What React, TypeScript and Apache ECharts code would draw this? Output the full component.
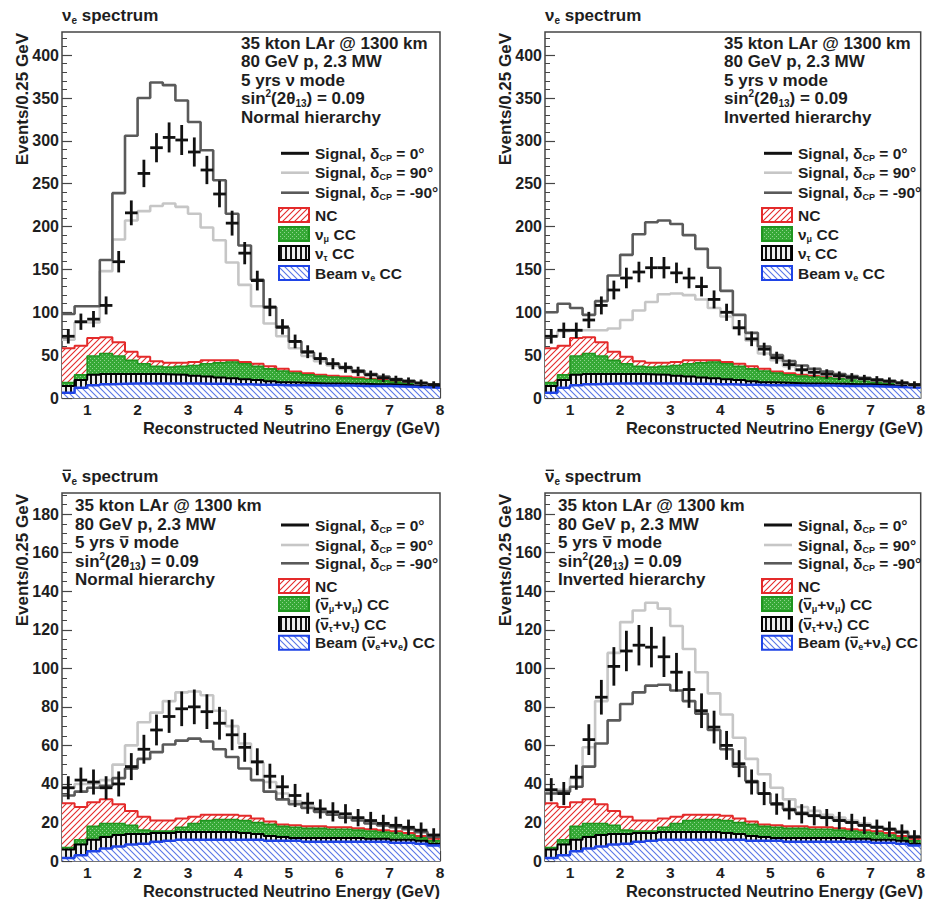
import React, { useEffect, useRef } from 'react';
import * as echarts from 'echarts';

// ---------- data ----------
const BIN_EDGES = [0.5, 0.75, 1, 1.25, 1.5, 1.75, 2, 2.25, 2.5, 2.75, 3, 3.25, 3.5, 3.75, 4, 4.25, 4.5, 4.75, 5, 5.25, 5.5, 5.75, 6, 6.25, 6.5, 6.75, 7, 7.25, 7.5, 7.75, 8];
const X_TICKS = [1, 2, 3, 4, 5, 6, 7, 8];
const NU_Y_TICKS = [0, 50, 100, 150, 200, 250, 300, 350, 400];
const ANU_Y_TICKS = [0, 20, 40, 60, 80, 100, 120, 140, 160, 180];

// neutrino mode backgrounds (visible stacked tops)
const NU_NC_TOP = [58, 61, 70, 71, 65, 54, 48, 43, 41, 41, 42, 44, 44, 44, 42, 40, 37, 34, 31, 29, 27, 26, 25, 24, 22.5, 21, 19.5, 18, 16, 14.5];
const NU_NUMU_TOP = [18, 27, 49, 52, 49, 44, 40, 37, 36, 37, 38, 40, 41, 42, 40, 37, 34, 31.5, 29, 27, 25.5, 24.5, 23.5, 22.5, 21.5, 20, 18.5, 17, 15.5, 14];
const NU_NUTAU_TOP = [14, 21, 27, 28, 28, 28, 28, 28, 27.5, 27, 26, 25, 24, 23, 22, 21, 19.5, 18.5, 18, 17.5, 17, 17, 16.5, 16.5, 16, 16, 15.5, 15, 14.5, 13.5];
const NU_BEAM_TOP = [6, 12, 15, 16, 16.5, 17, 17, 17, 17, 17, 17, 16.5, 16.5, 16, 16, 15.5, 15.5, 15, 15, 15, 14.5, 14.5, 14.5, 14, 14, 14, 13.5, 13, 12.5, 12];

// antineutrino mode backgrounds (visible stacked tops)
const ANU_NC_TOP = [30, 28, 30.5, 32, 29.5, 26, 23, 21, 21, 22, 23, 24, 24, 24, 23.5, 22, 20.5, 19, 18.5, 18, 18, 17.5, 17.5, 17, 16.5, 16, 15.5, 14.5, 13, 11.5];
const ANU_NUMU_TOP = [7, 11, 18, 19.5, 19.5, 18.5, 16, 15.5, 15.5, 17.5, 19.5, 21, 21.5, 21.5, 21, 20, 19, 18, 17.5, 17, 17, 16.5, 16.5, 16, 15.5, 15, 14.5, 13.5, 12, 10.5];
const ANU_NUTAU_TOP = [6, 8.5, 11, 12.5, 13.5, 14, 14, 14.5, 14.5, 15, 15, 15, 15, 15, 14.5, 14, 13, 12.5, 12, 12, 12, 12, 12, 12, 11.5, 11.5, 11, 11, 10.5, 9];
const ANU_BEAM_TOP = [1.5, 3, 5, 6.5, 7.5, 8.5, 9, 10, 10.5, 11, 11, 11, 11, 11, 11, 11, 10.5, 10.5, 10.5, 10, 10, 10, 10, 10, 10, 10, 9.5, 9.5, 9, 8];

// panel 1: nu mode, normal hierarchy
const P1_CP0 = [72, 89, 92, 108, 159, 216, 262, 292, 304, 301, 287, 266, 238, 204, 169, 137, 106, 83, 66, 54, 46, 40, 35.5, 31, 27, 23.5, 21.5, 19.5, 17.5, 15.5];
const P1_CP0_ERR = [8.5, 9.5, 9.5, 10.5, 12.5, 14.5, 16, 17, 17.5, 17.5, 17, 16.5, 15.5, 14.5, 13, 11.5, 10.5, 9, 8, 7.5, 7, 6.5, 6, 5.5, 5, 5, 4.5, 4.5, 4, 4];
const P1_CP90 = [68, 88, 88, 148, 185, 207, 218, 224, 227, 223, 215, 199, 184, 158, 132, 107, 87, 72, 58, 49, 43, 38, 34, 30, 27, 24, 21.5, 19.5, 17, 15.5];
const P1_CPM90 = [98, 107, 107, 161, 239, 306, 350, 368, 365, 347, 322, 289, 254, 215, 178, 138, 106, 82, 66, 53, 46, 40, 36, 32, 28, 25, 22, 20, 17.5, 16];

// panel 2: nu mode, inverted hierarchy
const P2_CP0 = [72, 79, 79, 91, 108, 126, 140, 147, 152, 152, 146, 140, 130, 115, 100, 82, 69, 57, 47, 39, 33, 30, 28, 26, 24, 22.5, 21, 19.5, 17.5, 15.5];
const P2_CP0_ERR = [8.5, 9, 9, 9.5, 10.5, 11, 12, 12, 12.5, 12.5, 12, 12, 11.5, 10.5, 10, 9, 8.5, 7.5, 7, 6, 5.5, 5.5, 5.5, 5, 5, 4.5, 4.5, 4.5, 4, 4];
const P2_CP90 = [72, 78, 79, 79, 79, 81, 91, 102, 112, 121, 122, 120, 115, 105, 95, 81, 67, 52, 44, 37, 32, 29, 27, 25, 23.5, 22, 20.5, 19, 17, 15];
const P2_CPM90 = [100, 110, 105, 97, 113, 143, 167, 191, 205, 207, 203, 190, 174, 152, 125, 97, 76, 60, 50, 43, 38, 34, 31, 28, 25.5, 23.5, 21.5, 20, 18, 16];

// panel 3: antinu mode, normal hierarchy
const P3_CP0 = [38, 42, 41, 38, 40, 49, 58, 68, 75, 79, 80, 77.5, 71.5, 65.5, 59, 51.5, 44, 38.5, 34, 30, 27, 25.5, 24.5, 22.5, 21, 19.5, 18.5, 17.5, 16, 13.5];
const P3_CP0_ERR = [6, 6.5, 6.5, 6, 6.5, 7, 7.5, 8, 8.5, 9, 9, 9, 8.5, 8, 7.5, 7, 6.5, 6, 6, 5.5, 5, 5, 5, 4.5, 4.5, 4.5, 4.5, 4, 4, 3.5];
const P3_CP90 = [38, 40, 40, 42, 50, 60, 72, 77, 83, 87.5, 88, 86, 78, 70, 61, 51, 41, 35, 31, 28.5, 26.5, 25, 23.5, 22, 20.5, 19, 18, 17, 15.5, 13];
const P3_CPM90 = [34, 36, 38, 39, 43, 48, 53, 56.5, 60.5, 62.5, 63.5, 62, 58, 54, 48, 42, 36, 32, 29.5, 27.5, 25.5, 24, 22.5, 21, 19.5, 18.5, 17.5, 16.5, 15, 12.5];

// panel 4: antinu mode, inverted hierarchy
const P4_CP0 = [37, 35, 43.5, 63, 85, 101, 109, 112, 111, 106, 98, 89, 78, 69.5, 60, 50.5, 41, 35, 29.5, 26.5, 24.5, 23.5, 22.5, 21, 20, 18.5, 17.5, 16.5, 15, 12.5];
const P4_CP0_ERR = [6, 6, 6.5, 8, 9, 10, 10.5, 10.5, 10.5, 10.5, 10, 9.5, 9, 8.5, 7.5, 7, 6.5, 6, 5.5, 5, 5, 5, 4.5, 4.5, 4.5, 4.5, 4, 4, 4, 3.5];
const P4_CP90 = [36, 37, 43, 59, 83, 108, 124, 130, 134, 131, 122, 110, 98, 87, 76, 64, 53, 45, 38, 32, 28, 26, 24, 22.5, 21, 19.5, 18, 17, 15.5, 13];
const P4_CPM90 = [35, 36, 38.5, 49, 61, 73, 81.5, 87.5, 91, 91.5, 88.5, 83, 76.5, 68, 58, 49, 41.5, 35, 30, 27, 25, 23.5, 22.5, 21, 20, 18.5, 17.5, 16.5, 15, 12.5];

// ---------- styling ----------
const FONT = '"Liberation Sans", Arial, Helvetica, sans-serif';
const TXT = '#1e1e1e';
const FRAME = '#454545';
const RED = '#e42a2a';
const GREEN_LINE = '#1f951f';
const GREEN_FILL = '#36a936';
const BLUE = '#1f44e6';
const BLUE_HATCH = '#5a77e6';
const LIGHT = '#c6c6c6';
const DARK = '#5a5a5a';

const PANELS = [
  { left: 62, top: 32, height: 366, mode: 'nu', yMax: 427, yTicks: NU_Y_TICKS, yMinorStep: 10, hier: 'Normal hierarchy', cp0: P1_CP0, err: P1_CP0_ERR, cp90: P1_CP90, cpm90: P1_CPM90 },
  { left: 545, top: 32, height: 366, mode: 'nu', yMax: 427, yTicks: NU_Y_TICKS, yMinorStep: 10, hier: 'Inverted hierarchy', cp0: P2_CP0, err: P2_CP0_ERR, cp90: P2_CP90, cpm90: P2_CPM90 },
  { left: 62, top: 493, height: 368, mode: 'anu', yMax: 191, yTicks: ANU_Y_TICKS, yMinorStep: 5, hier: 'Normal hierarchy', cp0: P3_CP0, err: P3_CP0_ERR, cp90: P3_CP90, cpm90: P3_CPM90 },
  { left: 545, top: 493, height: 368, mode: 'anu', yMax: 191, yTicks: ANU_Y_TICKS, yMinorStep: 5, hier: 'Inverted hierarchy', cp0: P4_CP0, err: P4_CP0_ERR, cp90: P4_CP90, cpm90: P4_CPM90 },
];
const PW = 378;

function stepData(vals: number[]) {
  return BIN_EDGES.map((x, i) => [x, vals[Math.min(i, vals.length - 1)]]);
}
function crossData(vals: number[], errs: number[]) {
  return vals.map((v, i) => [BIN_EDGES[i], BIN_EDGES[i + 1], v, errs[i]]);
}

function makeCanvas(w: number, h: number, draw: (ctx: CanvasRenderingContext2D) => void) {
  const c = document.createElement('canvas');
  c.width = w; c.height = h;
  const ctx = c.getContext('2d') as CanvasRenderingContext2D;
  draw(ctx);
  return c;
}
function pat(c: HTMLCanvasElement) {
  return { image: c, repeat: 'repeat', imageWidth: c.width, imageHeight: c.height } as any;
}

let measureCtx: CanvasRenderingContext2D | null = null;
function textWidth(t: string, fs: number) {
  if (!measureCtx) measureCtx = document.createElement('canvas').getContext('2d');
  if (!measureCtx) return t.length * fs * 0.55;
  measureCtx.font = `bold ${fs}px ${FONT}`;
  return measureCtx.measureText(t).width;
}

function richStyles(fs: number) {
  const base = { fontWeight: 'bold', fontFamily: FONT, fill: TXT, color: TXT };
  const small = Math.round(fs * 0.6);
  return {
    n: { ...base, fontSize: fs, lineHeight: fs + 3 },
    sb: { ...base, fontSize: small, lineHeight: small + 1, verticalAlign: 'bottom' },
    sp: { ...base, fontSize: small, lineHeight: small + 2, verticalAlign: 'top' },
  };
}

function richText(x: number, y: number, text: string, fs: number, align = 'left') {
  return {
    type: 'text', x, y, z: 100, silent: true,
    style: { text, rich: richStyles(fs), align, verticalAlign: 'middle', font: `bold ${fs}px ${FONT}`, fill: TXT },
  };
}

// overbar drawn above a "ν" that follows the given plain prefix
function nuBar(x: number, cy: number, prefix: string, fs: number) {
  const x0 = x + textWidth(prefix, fs);
  const w = textWidth('ν', fs);
  const y = cy - 0.17 * fs - 2.8;
  return {
    type: 'line', z: 100, silent: true,
    shape: { x1: x0 + 0.8, y1: y, x2: x0 + w - 0.4, y2: y },
    style: { stroke: TXT, lineWidth: 1.4 },
  };
}

function buildOption() {
  const ncPat = pat(makeCanvas(6, 6, (ctx) => {
    ctx.fillStyle = '#fff'; ctx.fillRect(0, 0, 6, 6);
    ctx.strokeStyle = RED; ctx.lineWidth = 1.1; ctx.beginPath();
    ctx.moveTo(0, 6); ctx.lineTo(6, 0);
    ctx.moveTo(-1, 1); ctx.lineTo(1, -1);
    ctx.moveTo(5, 7); ctx.lineTo(7, 5);
    ctx.stroke();
  }));
  const beamPat = pat(makeCanvas(6, 6, (ctx) => {
    ctx.fillStyle = '#fff'; ctx.fillRect(0, 0, 6, 6);
    ctx.strokeStyle = BLUE_HATCH; ctx.lineWidth = 1.1; ctx.beginPath();
    ctx.moveTo(0, 0); ctx.lineTo(6, 6);
    ctx.moveTo(-1, 5); ctx.lineTo(1, 7);
    ctx.moveTo(5, -1); ctx.lineTo(7, 1);
    ctx.stroke();
  }));
  const greenPat = pat(makeCanvas(4, 4, (ctx) => {
    ctx.fillStyle = GREEN_FILL; ctx.fillRect(0, 0, 4, 4);
    ctx.fillStyle = '#8fd48f'; ctx.fillRect(0, 0, 1, 1); ctx.fillRect(2, 2, 1, 1);
  }));
  const tauPat = pat(makeCanvas(5, 5, (ctx) => {
    ctx.fillStyle = '#eeeeee'; ctx.fillRect(0, 0, 5, 5);
    ctx.fillStyle = '#111'; ctx.fillRect(0, 0, 2, 5);
  }));

  const xMinor: number[] = [];
  for (let k = 3; k <= 40; k++) {
    const v = Math.round(k * 2) / 10;
    if (v > 0.5 && v < 8 && Math.abs(v - Math.round(v)) > 1e-6) xMinor.push(v);
  }

  const grids: any[] = [];
  const xAxes: any[] = [];
  const yAxes: any[] = [];
  const series: any[] = [];
  const graphics: any[] = [];

  const labelStyle = { fontSize: 15.5, fontWeight: 'bold', fontFamily: FONT, color: TXT };

  PANELS.forEach((p, pi) => {
    const nu = p.mode === 'nu';
    grids.push({ left: p.left, top: p.top, width: PW, height: p.height, show: true, borderColor: FRAME, borderWidth: 1.5, backgroundColor: '#fff' });

    const yMinor: number[] = [];
    for (let v = p.yMinorStep; v < p.yMax; v += p.yMinorStep) {
      if (v % (p.yTicks[1]) !== 0) yMinor.push(v);
    }

    xAxes.push({
      type: 'value', gridIndex: pi, min: 0.5, max: 8, position: 'bottom',
      axisLine: { show: false }, splitLine: { show: false },
      axisTick: { show: true, inside: true, length: 10, customValues: X_TICKS, lineStyle: { color: FRAME, width: 1.2 } },
      axisLabel: { show: true, customValues: X_TICKS, margin: 3, ...labelStyle },
    });
    xAxes.push({
      type: 'value', gridIndex: pi, min: 0.5, max: 8, position: 'bottom',
      axisLine: { show: false }, splitLine: { show: false }, axisLabel: { show: false },
      axisTick: { show: true, inside: true, length: 5, customValues: xMinor, lineStyle: { color: FRAME, width: 1 } },
    });
    yAxes.push({
      type: 'value', gridIndex: pi, min: 0, max: p.yMax, position: 'left',
      axisLine: { show: false }, splitLine: { show: false },
      axisTick: { show: true, inside: true, length: 10, customValues: p.yTicks, lineStyle: { color: FRAME, width: 1.2 } },
      axisLabel: { show: true, customValues: p.yTicks, margin: 3, ...labelStyle, fontSize: 16 },
    });
    yAxes.push({
      type: 'value', gridIndex: pi, min: 0, max: p.yMax, position: 'left',
      axisLine: { show: false }, splitLine: { show: false }, axisLabel: { show: false },
      axisTick: { show: true, inside: true, length: 5, customValues: yMinor, lineStyle: { color: FRAME, width: 1 } },
    });

    const xi = pi * 2, yi = pi * 2;
    const bg = nu
      ? [NU_NC_TOP, NU_NUMU_TOP, NU_NUTAU_TOP, NU_BEAM_TOP]
      : [ANU_NC_TOP, ANU_NUMU_TOP, ANU_NUTAU_TOP, ANU_BEAM_TOP];
    const bgStyle = [
      { line: RED, w: 2, fill: ncPat, z: 2 },
      { line: GREEN_LINE, w: 1.6, fill: greenPat, z: 3 },
      { line: '#000', w: 2, fill: tauPat, z: 4 },
      { line: BLUE, w: 2.5, fill: beamPat, z: 5 },
    ];
    bg.forEach((vals, k) => {
      const s = bgStyle[k];
      series.push({
        type: 'line', xAxisIndex: xi, yAxisIndex: yi, step: 'end', symbol: 'none', silent: true, z: s.z,
        data: stepData(vals), lineStyle: { color: s.line, width: s.w },
        areaStyle: { color: s.fill, opacity: 1, origin: 'start' },
      });
    });
    series.push({
      type: 'line', xAxisIndex: xi, yAxisIndex: yi, step: 'end', symbol: 'none', silent: true, z: 6,
      data: stepData(p.cp90), lineStyle: { color: LIGHT, width: 2.6 },
    });
    series.push({
      type: 'line', xAxisIndex: xi, yAxisIndex: yi, step: 'end', symbol: 'none', silent: true, z: 7,
      data: stepData(p.cpm90), lineStyle: { color: DARK, width: 2.6 },
    });
    series.push({
      type: 'custom', xAxisIndex: xi, yAxisIndex: yi, z: 8, silent: true, clip: true,
      data: crossData(p.cp0, p.err),
      encode: { x: [0, 1], y: [2] },
      renderItem: (params: any, api: any) => {
        const x0 = api.value(0), x1 = api.value(1), v = api.value(2), e = api.value(3);
        const xm = (x0 + x1) / 2;
        const a = api.coord([x0, v]), b = api.coord([x1, v]);
        const t = api.coord([xm, v + e]), d = api.coord([xm, v - e]);
        const st = { stroke: '#111', lineWidth: 2.8 };
        return {
          type: 'group',
          children: [
            { type: 'line', shape: { x1: a[0], y1: a[1], x2: b[0], y2: b[1] }, style: st },
            { type: 'line', shape: { x1: t[0], y1: t[1], x2: d[0], y2: d[1] }, style: st },
          ],
        };
      },
    });

    // ---- texts ----
    const right = p.left + PW;
    const bottom = p.top + p.height;
    const titleY = p.top - 17;
    graphics.push(richText(p.left, titleY, '{n|ν}{sb|e}{n| spectrum}', 17));
    if (!nu) graphics.push(nuBar(p.left, titleY, '', 17));
    graphics.push({
      type: 'text', x: p.left - 40, y: p.top + 1, rotation: Math.PI / 2, z: 100, silent: true,
      style: { text: 'Events/0.25 GeV', font: `bold 17px ${FONT}`, fill: TXT, align: 'right', verticalAlign: 'middle' },
    });
    graphics.push({
      type: 'text', x: right, y: bottom + 29.5, z: 100, silent: true,
      style: { text: 'Reconstructed Neutrino Energy (GeV)', font: `bold 16.5px ${FONT}`, fill: TXT, align: 'right', verticalAlign: 'middle' },
    });

    const annX = nu ? p.left + 179 : p.left + 13;
    const annY = nu ? [11, 29.5, 48, 66.5, 85] : [12.5, 31, 49.5, 68, 86.5];
    const annLines = [
      '{n|35 kton LAr @ 1300 km}',
      '{n|80 GeV p, 2.3 MW}',
      '{n|5 yrs ν mode}',
      '{n|sin}{sp|2}{n|(2θ}{sb|13}{n|) = 0.09}',
      `{n|${p.hier}}`,
    ];
    annLines.forEach((t, k) => graphics.push(richText(annX, p.top + annY[k], t, 17)));
    if (!nu) graphics.push(nuBar(annX, p.top + annY[2], '5 yrs ', 17));

    // legend
    const rows = nu ? [121.3, 140.7, 160.7, 183, 202, 221, 241] : [32, 52, 70.3, 93, 111, 131, 149.7];
    const lx1 = p.left + 219, lx2 = p.left + 247, bx = p.left + 217, tx = p.left + 253;
    const lineCols = [['#111', 3], [LIGHT, 2.6], [DARK, 2.6]];
    const sigTexts = ['{n|Signal, δ}{sb|CP}{n| = 0°}', '{n|Signal, δ}{sb|CP}{n| = 90°}', '{n|Signal, δ}{sb|CP}{n| = -90°}'];
    lineCols.forEach((lc, k) => {
      const yy = p.top + rows[k];
      graphics.push({ type: 'line', z: 100, silent: true, shape: { x1: lx1, y1: yy, x2: lx2, y2: yy }, style: { stroke: lc[0], lineWidth: lc[1] } });
      graphics.push(richText(tx, yy, sigTexts[k], 15.5));
    });
    const boxes = [
      { fill: ncPat, stroke: RED },
      { fill: greenPat, stroke: GREEN_LINE },
      { fill: tauPat, stroke: '#000' },
      { fill: beamPat, stroke: BLUE },
    ];
    const boxTexts = nu
      ? ['{n|NC}', '{n|ν}{sb|μ}{n| CC}', '{n|ν}{sb|τ}{n| CC}', '{n|Beam ν}{sb|e}{n| CC}']
      : ['{n|NC}', '{n|(ν}{sb|μ}{n|+ν}{sb|μ}{n|) CC}', '{n|(ν}{sb|τ}{n|+ν}{sb|τ}{n|) CC}', '{n|Beam (ν}{sb|e}{n|+ν}{sb|e}{n|) CC}'];
    const barPrefix = ['', '(', '(', 'Beam ('];
    boxes.forEach((b, k) => {
      const yy = p.top + rows[k + 3];
      graphics.push({ type: 'rect', z: 100, silent: true, shape: { x: bx, y: yy - 7, width: 30, height: 14 }, style: { fill: b.fill, stroke: b.stroke, lineWidth: 2 } });
      graphics.push(richText(tx, yy, boxTexts[k], 15.5));
      if (!nu && k > 0) graphics.push(nuBar(tx, yy, barPrefix[k], 15.5));
    });
  });

  return {
    animation: false,
    backgroundColor: '#fff',
    grid: grids,
    xAxis: xAxes,
    yAxis: yAxes,
    series,
    graphic: { elements: graphics },
  };
}

export default function App() {
  const ref = useRef<HTMLDivElement>(null);
  useEffect(() => {
    if (!ref.current) return;
    const chart = echarts.init(ref.current, undefined, { renderer: 'svg' });
    chart.setOption(buildOption() as any);
    return () => chart.dispose();
  }, []);
  return (
    <div
      ref={ref}
      style={{ position: 'absolute', left: 0, top: 0, width: 928, height: 899, background: '#fff' }}
    />
  );
}
